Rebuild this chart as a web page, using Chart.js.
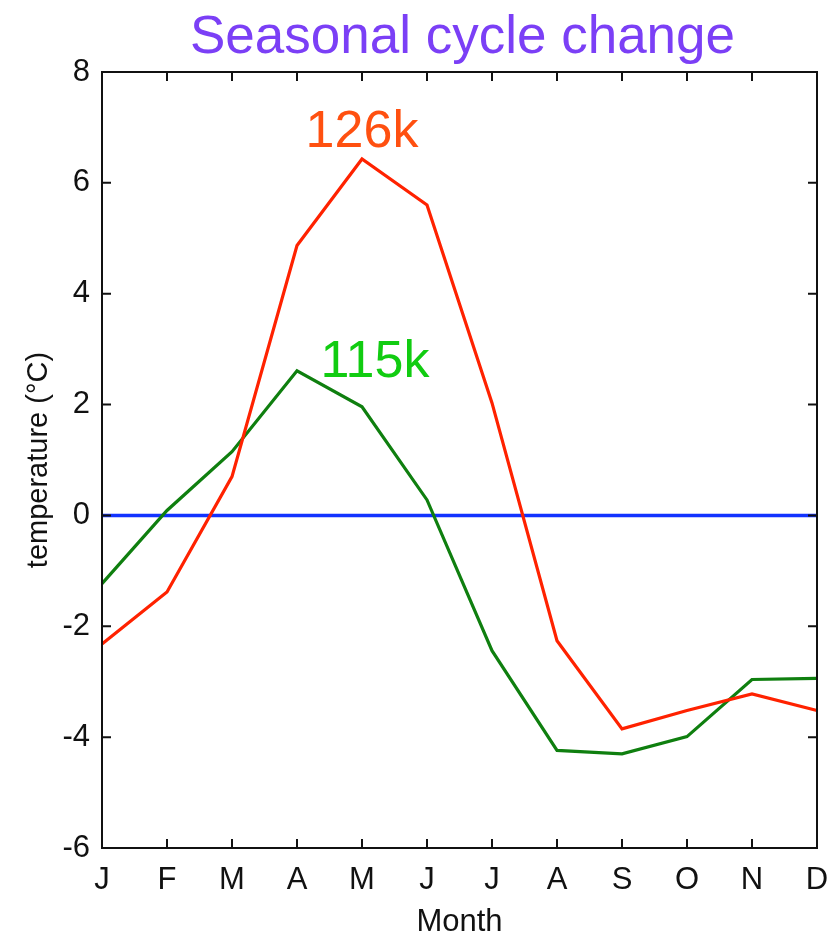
<!DOCTYPE html>
<html>
<head>
<meta charset="utf-8">
<title>Seasonal cycle change</title>
<script src="https://cdn.jsdelivr.net/npm/chart.js@4.4.1/dist/chart.umd.min.js"></script>
<style>
    html, body { margin: 0; padding: 0; background: #fff; }
    #wrap { width: 827px; height: 938px; overflow: hidden; }
</style>
</head>
<body>
<div id="wrap"><canvas id="cycleChart" width="827" height="938"></canvas></div>
<script>
/* --- Data --- */
const months = ['J', 'F', 'M', 'A', 'M', 'J', 'J', 'A', 'S', 'O', 'N', 'D'];
const temp126k = [-2.32, -1.38, 0.70, 4.87, 6.43, 5.60, 2.03, -2.26, -3.85, -3.52, -3.22, -3.52];
const temp115k = [-1.23, 0.09, 1.15, 2.61, 1.96, 0.28, -2.44, -4.24, -4.30, -3.99, -2.96, -2.94];
const zeroLine = [0, 0, 0, 0, 0, 0, 0, 0, 0, 0, 0, 0];
const yTicks = [-6, -4, -2, 0, 2, 4, 6, 8];

// where the series names sit: [month index, temperature]
const label126k = [4, 6.65];
const label115k = [4.2, 2.5];

const FONT = "'Liberation Sans', Arial, Helvetica, sans-serif";
const TICK = 9;

/* --- Box with inward ticks on all four sides, plus title and series names --- */
const boxPlugin = {
    id: 'boxPlugin',
    afterDatasetsDraw(chart) {
        const { ctx, chartArea: { left, right, top, bottom }, scales: { x, y } } = chart;
        ctx.save();
        ctx.strokeStyle = '#111';
        ctx.lineWidth = 2;
        ctx.strokeRect(left, top, right - left, bottom - top);

        ctx.beginPath();
        x.ticks.forEach((t, i) => {
            const px = x.getPixelForTick(i);
            ctx.moveTo(px, bottom); ctx.lineTo(px, bottom - TICK);
            ctx.moveTo(px, top); ctx.lineTo(px, top + TICK);
        });
        y.ticks.forEach((t, i) => {
            const py = y.getPixelForTick(i);
            ctx.moveTo(left, py); ctx.lineTo(left + TICK, py);
            ctx.moveTo(right, py); ctx.lineTo(right - TICK, py);
        });
        ctx.stroke();

        // title
        ctx.fillStyle = '#7b3ff6';
        ctx.font = '53px ' + FONT;
        ctx.textAlign = 'center';
        ctx.textBaseline = 'alphabetic';
        ctx.fillText('Seasonal cycle change', (left + right) / 2 + 3, 53);

        // series names
        ctx.font = '52px ' + FONT;
        ctx.fillStyle = '#ff5010';
        ctx.fillText('126k', x.getPixelForValue(label126k[0]), y.getPixelForValue(label126k[1]));
        ctx.fillStyle = '#11cc11';
        ctx.fillText('115k', x.getPixelForValue(label115k[0]), y.getPixelForValue(label115k[1]));
        ctx.restore();
    }
};

/* --- Chart --- */
const ctx = document.getElementById('cycleChart').getContext('2d');

new Chart(ctx, {
    type: 'line',
    data: {
        labels: months,
        datasets: [
            {
                label: '126k',
                data: temp126k,
                borderColor: '#ff2200',
                borderWidth: 3.2,
                order: 0
            },
            {
                label: '115k',
                data: temp115k,
                borderColor: '#0f7f0f',
                borderWidth: 3.2,
                order: 1
            },
            {
                label: 'zero',
                data: zeroLine,
                borderColor: '#1233ff',
                borderWidth: 3.5,
                order: 2
            }
        ]
    },
    options: {
        responsive: false,
        animation: false,
        devicePixelRatio: 1,
        layout: { padding: { top: 72, right: 10, bottom: 0, left: 0 } },
        elements: {
            point: { radius: 0 },
            line: { tension: 0, borderCapStyle: 'butt' }
        },
        scales: {
            x: {
                type: 'category',
                grid: { display: false, drawTicks: false },
                border: { display: false },
                ticks: {
                    autoSkip: false,
                    maxRotation: 0,
                    padding: 14,
                    color: '#111',
                    font: { family: FONT, size: 31 }
                },
                title: {
                    display: true,
                    text: 'Month',
                    color: '#111',
                    padding: { top: 0, bottom: 0 },
                    font: { family: FONT, size: 31, lineHeight: 1 }
                },
                afterFit(scale) {
                    scale.height = 90;
                    // let the last label run past the edge, like the original
                    scale.paddingLeft = 0;
                    scale.paddingRight = 0;
                }
            },
            y: {
                min: -6,
                max: 8,
                afterBuildTicks(scale) { scale.ticks = yTicks.map(v => ({ value: v })); },
                grid: { display: false, drawTicks: false },
                border: { display: false },
                ticks: {
                    padding: 12,
                    color: '#111',
                    font: { family: FONT, size: 31 }
                },
                title: {
                    display: true,
                    text: 'temperature (°C)',
                    color: '#111',
                    padding: { top: 24, bottom: 0 },
                    font: { family: FONT, size: 29, lineHeight: 1 }
                },
                afterFit(scale) { scale.width = 102; }
            }
        },
        plugins: {
            legend: { display: false },
            tooltip: { enabled: false },
            title: { display: false }
        }
    },
    plugins: [boxPlugin]
});
</script>
</body>
</html>
